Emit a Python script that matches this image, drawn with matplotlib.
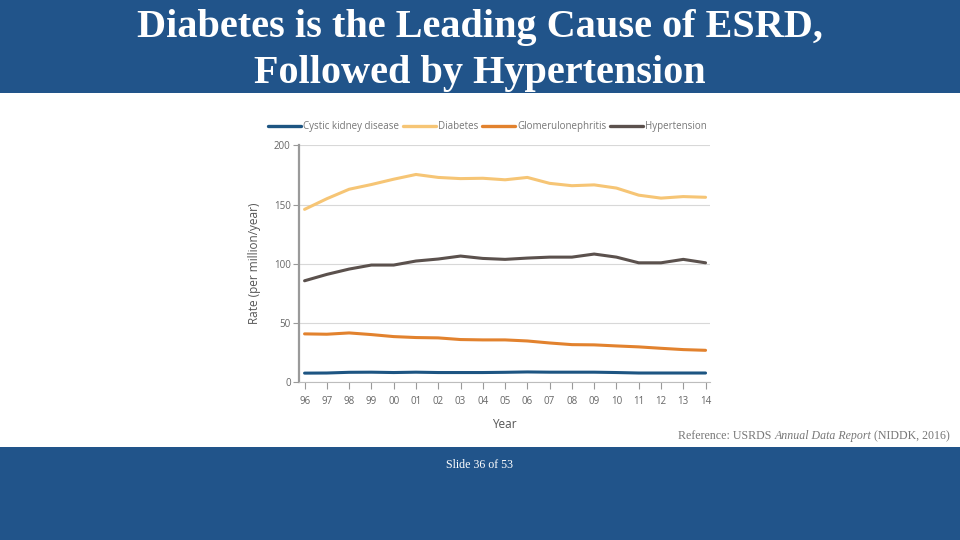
import matplotlib
matplotlib.use("Agg")
import matplotlib.pyplot as plt
from matplotlib.patches import Rectangle
from matplotlib.offsetbox import TextArea, HPacker, AnchoredOffsetbox

# USRDS incidence of ESRD by primary cause, 1996-2014
years = ["96", "97", "98", "99", "00", "01", "02", "03", "04", "05",
         "06", "07", "08", "09", "10", "11", "12", "13", "14"]
cystic = [7.5, 7.6, 8.2, 8.3, 8.0, 8.3, 8.0, 8.0, 8.0, 8.2,
          8.5, 8.3, 8.3, 8.3, 8.0, 7.6, 7.6, 7.6, 7.6]
diabetes = [146, 155, 163, 167, 171.5, 175.5, 173, 172, 172.3, 171,
            173, 168, 166, 166.7, 164, 158, 155.5, 156.8, 156.2]
glomerulo = [40.7, 40.4, 41.5, 40.1, 38.4, 37.6, 37.3, 35.9, 35.6, 35.6,
             34.7, 33.0, 31.6, 31.4, 30.5, 29.7, 28.5, 27.4, 26.8]
hypertension = [85.6, 91, 95.5, 98.9, 98.9, 102.3, 104, 106.5, 104.5, 103.7,
                104.8, 105.6, 105.6, 108.2, 105.6, 100.8, 100.8, 103.7, 100.8]
series = [
    ("Cystic kidney disease", cystic, "#1d5582"),
    ("Diabetes", diabetes, "#f6c575"),
    ("Glomerulonephritis", glomerulo, "#e2822e"),
    ("Hypertension", hypertension, "#5b514d"),
]
yticks = [0, 50, 100, 150, 200]

BLUE = "#21548a"
W, H = 960, 540

fig = plt.figure(figsize=(9.6, 5.4), dpi=100)
fig.patch.set_facecolor("white")

# slide bands
fig.patches.append(Rectangle((0, 1 - 93 / H), 1, 93 / H, transform=fig.transFigure,
                             facecolor=BLUE, edgecolor="none", zorder=0))
fig.patches.append(Rectangle((0, 0), 1, 1 - 447 / H, transform=fig.transFigure,
                             facecolor=BLUE, edgecolor="none", zorder=0))

fig.text(0.5, 1 - 27 / H, "Diabetes is the Leading Cause of ESRD,", ha="center", va="center",
         color="white", fontsize=29, fontweight="bold", family="Liberation Serif")
fig.text(0.5, 1 - 73 / H, "Followed by Hypertension", ha="center", va="center",
         color="white", fontsize=29, fontweight="bold", family="Liberation Serif")

# chart
ax = fig.add_axes([299 / W, 1 - 382 / H, (710 - 299) / W, (382 - 145.5) / H])
x = list(range(len(years)))
for name, vals, col in series:
    ax.plot(x, vals, color=col, lw=2.2, label=name, solid_capstyle="round")

ax.set_ylim(0, 200)
ax.set_xlim(-0.25, len(years) - 1 + 0.2)
ax.set_yticks(yticks)
ax.set_xticks(x)
ax.set_xticklabels(years)
ax.grid(axis="y", color="#d8d8d8", lw=0.8)
ax.set_axisbelow(True)
for s in ["top", "right"]:
    ax.spines[s].set_visible(False)
ax.spines["left"].set_color("#9a9a9a")
ax.spines["left"].set_linewidth(1.6)
ax.spines["bottom"].set_color("#bdbdbd")
ax.spines["bottom"].set_linewidth(0.8)
ax.tick_params(axis="x", colors="#9a9a9a", labelcolor="#666666", labelsize=7, length=5, pad=5)
ax.tick_params(axis="y", colors="#9a9a9a", labelcolor="#666666", labelsize=7, length=4, pad=2)
for lab in ax.get_xticklabels() + ax.get_yticklabels():
    lab.set_family("Open Sans")

ax.set_ylabel("Rate (per million/year)", fontsize=8.5, color="#555555", family="Open Sans", labelpad=9)
ax.set_xlabel("Year", fontsize=8.5, color="#555555", family="Open Sans", labelpad=8)

leg = ax.legend(loc="lower left", bbox_to_anchor=(-0.085, 1.04), ncol=4, frameon=False,
                handlelength=3.4, handletextpad=0.2, columnspacing=0.4,
                prop={"family": "Open Sans", "size": 7}, borderaxespad=0)
for t in leg.get_texts():
    t.set_color("#777777")
for h in leg.get_lines():
    h.set_linewidth(2.4)

# reference line, partly italic
tp = dict(color="#777777", size=8.6, family="Liberation Serif")
parts = [TextArea("Reference: USRDS ", textprops=tp),
         TextArea("Annual Data Report", textprops=dict(tp, style="italic")),
         TextArea(" (NIDDK, 2016)", textprops=tp)]
box = HPacker(children=parts, align="baseline", pad=0, sep=0)
anch = AnchoredOffsetbox(loc="center right", child=box, pad=0, frameon=False,
                         bbox_to_anchor=(950 / W, 1 - 436 / H), bbox_transform=fig.transFigure,
                         borderpad=0)
fig.add_artist(anch)

fig.text(479 / W, 1 - 465 / H, "Slide 36 of 53", ha="center", va="center", color="white",
         fontsize=8.6, family="Liberation Serif")

fig.savefig("out.png", dpi=100, facecolor=fig.get_facecolor())
